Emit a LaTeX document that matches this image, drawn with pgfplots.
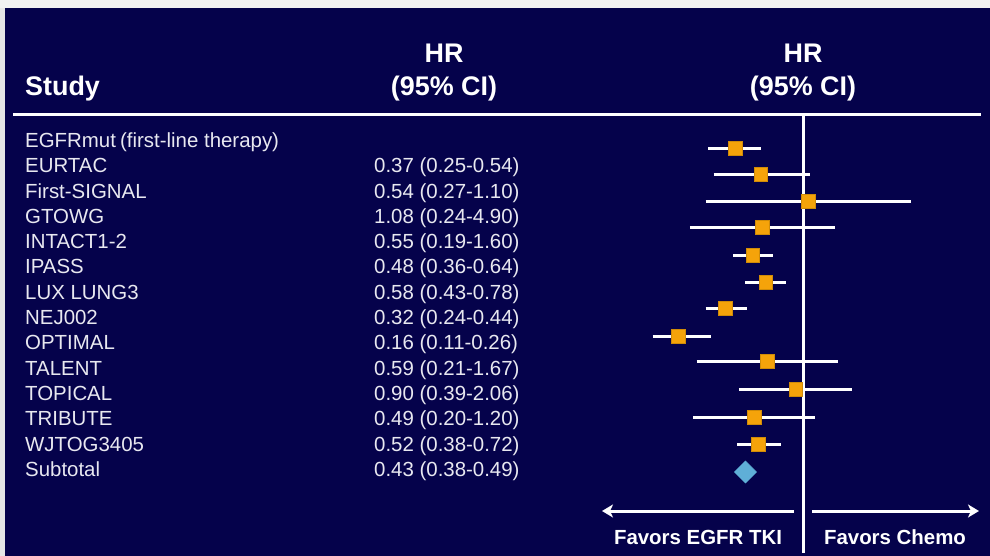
\documentclass[border=0pt]{standalone}
\usepackage{pgfplots}
\pgfplotsset{compat=1.18}
\usepackage{pgfplotstable}
\usepackage{fontspec}
\setmainfont{Liberation Sans}
\usetikzlibrary{arrows.meta}
\definecolor{navy}{RGB}{5,2,75}
\definecolor{mkorange}{RGB}{245,163,10}
\definecolor{mkblue}{RGB}{95,175,215}
\definecolor{txt}{RGB}{232,232,240}
\definecolor{strip}{RGB}{242,242,242}

% HR, row position (y, in picture units from the top)
\pgfplotstableread{
hr y
0.37 148
0.54 174
1.08 201
0.55 227
0.48 255
0.58 282
0.32 308
0.16 336
0.59 361
0.90 389
0.49 417
0.52 444
}\studies

% 95% CI segments
\pgfplotstableread{
x y
0.25 148
0.54 148
nan nan
0.27 174
1.10 174
nan nan
0.24 201
4.90 201
nan nan
0.19 227
1.60 227
nan nan
0.36 255
0.64 255
nan nan
0.43 282
0.78 282
nan nan
0.24 308
0.44 308
nan nan
0.11 336
0.26 336
nan nan
0.21 361
1.67 361
nan nan
0.39 389
2.06 389
nan nan
0.20 417
1.20 417
nan nan
0.38 444
0.72 444
}\cis

\pgfplotstableread{
hr y
0.43 472
}\subtotal

\begin{document}
\begin{tikzpicture}
\begin{scope}[x=1bp,y=-1bp]
\path[use as bounding box] (0,0) rectangle (990,556);
\fill[navy] (0,0) rectangle (990,556);
\fill[strip] (0,0) rectangle (990,8);
\fill[strip!95!black] (0,8) rectangle (5,556);
% header line
\draw[white, line width=3bp] (13,115) -- (981,115);
% headers
\node[anchor=base west, text=white, font=\fontsize{27}{30}\selectfont\bfseries, inner sep=0pt] at (25,96) {Study};
\node[anchor=base, text=white, font=\fontsize{27}{30}\selectfont\bfseries, inner sep=0pt] at (444,63) {HR};
\node[anchor=base, text=white, font=\fontsize{27}{30}\selectfont\bfseries, inner sep=0pt] at (444,96) {(95\% CI)};
\node[anchor=base, text=white, font=\fontsize{27}{30}\selectfont\bfseries, inner sep=0pt] at (803,63) {HR};
\node[anchor=base, text=white, font=\fontsize{27}{30}\selectfont\bfseries, inner sep=0pt] at (803,96) {(95\% CI)};
% rows
\foreach \name/\val [count=\i from 0] in {
  {EGFRmut\hspace{-1.5bp} (first-line therapy)}/{},
  EURTAC/{0.37 (0.25-0.54)},
  First-SIGNAL/{0.54 (0.27-1.10)},
  GTOWG/{1.08 (0.24-4.90)},
  INTACT1-2/{0.55 (0.19-1.60)},
  IPASS/{0.48 (0.36-0.64)},
  LUX LUNG3/{0.58 (0.43-0.78)},
  NEJ002/{0.32 (0.24-0.44)},
  OPTIMAL/{0.16 (0.11-0.26)},
  TALENT/{0.59 (0.21-1.67)},
  TOPICAL/{0.90 (0.39-2.06)},
  TRIBUTE/{0.49 (0.20-1.20)},
  WJTOG3405/{0.52 (0.38-0.72)},
  Subtotal/{0.43 (0.38-0.49)}} {
  \pgfmathsetmacro{\yy}{147.5+25.3*\i}
  \node[anchor=base west, text=txt, font=\fontsize{20.5}{23}\selectfont, inner sep=0pt] at (25,\yy) {\name};
  \node[anchor=base west, text=txt, font=\fontsize{20.5}{23}\selectfont, inner sep=0pt] at (374,\yy) {\val};
}
% arrows
\draw[white, line width=3bp, -{Stealth[length=11bp,width=13bp,inset=3bp]}] (794,511) -- (602,511);
\draw[white, line width=3bp, -{Stealth[length=11bp,width=13bp,inset=3bp]}] (812,511) -- (979,511);
\node[anchor=base, text=white, font=\fontsize{20.5}{24}\selectfont\bfseries, inner sep=0pt] at (698,544) {Favors EGFR TKI};
\node[anchor=base, text=white, font=\fontsize{20.5}{24}\selectfont\bfseries, inner sep=0pt] at (895,544) {Favors Chemo};
\end{scope}
\begin{axis}[
  at={(595bp,-556bp)}, anchor=south west,
  scale only axis, width=390bp, height=441bp,
  xmode=log, xmin=0.04733, xmax=14.43,
  ymin=115, ymax=556, y dir=reverse,
  hide axis, clip=false]
\addplot[white, line width=3bp] coordinates {(1,115) (1,553)};
\addplot[white, line width=3bp, unbounded coords=jump] table[x=x, y=y] {\cis};
\addplot[only marks, mark=square*, mark size=6.8bp, mark options={fill=mkorange, draw=mkorange!85!black, line width=0.6bp}] table[x=hr, y=y] {\studies};
\addplot[only marks, mark=square*, mark size=7.8bp, mark options={rotate=45, fill=mkblue, draw=mkblue}] table[x=hr, y=y] {\subtotal};
\end{axis}
\end{tikzpicture}
\end{document}
